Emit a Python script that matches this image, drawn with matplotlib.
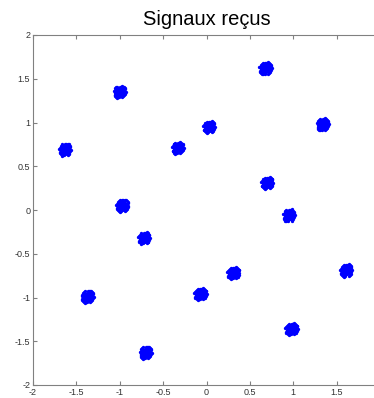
import matplotlib
matplotlib.use("Agg")
import matplotlib.pyplot as plt
import numpy as np

# Constellation cluster centres
centre_x = [0.68, -1.00, 1.34, -1.63, -0.33, 0.03, 0.70, -0.97,
            0.95, -0.72, 1.61, 0.31, -1.37, -0.07, 0.98, -0.70]
centre_y = [1.62, 1.35, 0.98, 0.69, 0.71, 0.95, 0.31, 0.05,
            -0.06, -0.32, -0.69, -0.72, -0.99, -0.96, -1.36, -1.63]

# Hand-read spread of the received points around each centre
off_x = [0.00, 0.03, -0.03, 0.05, -0.05, 0.02, -0.02, 0.06, -0.06, 0.04,
         -0.04, 0.01, -0.01, 0.07, -0.07, 0.03, -0.03, 0.05, -0.05, 0.00,
         0.02, -0.02, 0.04, -0.04, 0.06, -0.06, 0.01, -0.01, 0.03, -0.03,
         0.00, 0.05, -0.05, 0.02, -0.02, 0.04, -0.04, 0.00, 0.06, -0.06]
off_y = [0.00, 0.02, -0.02, 0.01, -0.01, 0.05, -0.05, 0.03, -0.03, 0.06,
         -0.06, 0.04, -0.04, 0.00, 0.01, 0.07, -0.07, -0.04, 0.04, 0.06,
         -0.03, 0.03, -0.05, 0.05, -0.02, 0.02, 0.06, -0.06, -0.06, 0.06,
         -0.04, 0.05, -0.05, -0.01, 0.01, 0.02, -0.02, 0.03, 0.04, -0.04]

x_ticks = [-2, -1.5, -1, -0.5, 0, 0.5, 1, 1.5]
x_tick_labels = ["-2", "-1.5", "-1", "-0.5", "0", "0.5", "1", "1.5"]
y_ticks = [-2, -1.5, -1, -0.5, 0, 0.5, 1, 1.5, 2]
y_tick_labels = ["-2", "-1.5", "-1", "-0.5", "0", "0.5", "1", "1.5", "2"]

plt.rcParams['font.family'] = ['Liberation Sans', 'DejaVu Sans']

fig = plt.figure(figsize=(3.74, 3.98), dpi=100)
ax = fig.add_axes([33/374, 13/398, 347/374, 350/398])

px = (np.array(centre_x)[:, None] + np.array(off_x)[None, :]).ravel()
py = (np.array(centre_y)[:, None] + np.array(off_y)[None, :]).ravel()
ax.plot(px, py, linestyle='none', marker='o', markersize=2.4,
        color='#0000ff', markeredgewidth=0)
ax.plot(centre_x, centre_y, linestyle='none', marker='o', markersize=8,
        color='#0000ff', markeredgewidth=0)

ax.set_xlim(-2, 2)
ax.set_ylim(-2, 2)
ax.set_xticks(x_ticks)
ax.set_xticklabels(x_tick_labels)
ax.set_yticks(y_ticks)
ax.set_yticklabels(y_tick_labels)
ax.tick_params(direction='in', length=3, width=0.8, color='#808080',
               labelsize=6.5, labelcolor='#333333', top=True, pad=2)
for s in ax.spines.values():
    s.set_color('#808080')
    s.set_linewidth(0.8)
ax.spines['right'].set_visible(False)

ax.set_title("Signaux reçus", fontsize=14.5, pad=7)

fig.savefig("out.png", dpi=100)
